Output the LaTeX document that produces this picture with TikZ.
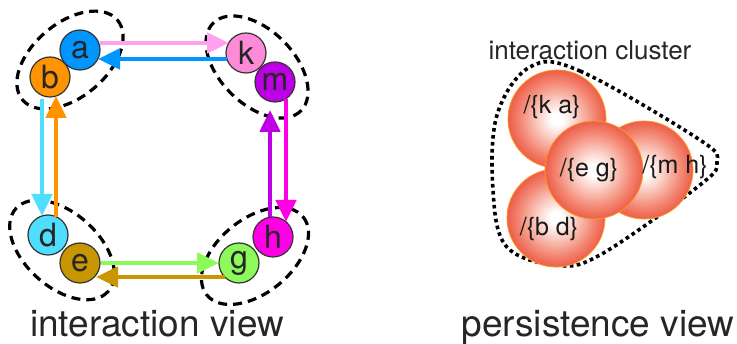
\documentclass[tikz,border=0pt]{standalone}
\usepackage{fontspec}
\setmainfont{TeX Gyre Heros}
\usetikzlibrary{arrows.meta}
\definecolor{cA}{RGB}{0,150,255}
\definecolor{cB}{RGB}{255,147,0}
\definecolor{cK}{RGB}{255,138,216}
\definecolor{cKa}{RGB}{255,160,240}
\definecolor{cM}{RGB}{190,0,230}
\definecolor{cD}{RGB}{80,222,255}
\definecolor{cE}{RGB}{200,150,0}
\definecolor{cG}{RGB}{140,250,90}
\definecolor{cH}{RGB}{255,0,230}
\definecolor{sphA}{RGB}{250,205,195}
\definecolor{sphB}{RGB}{243,135,115}
\definecolor{sphC}{RGB}{234,80,60}
\definecolor{sphD}{RGB}{228,45,32}
\definecolor{sphE}{RGB}{255,150,30}
\pgfdeclareradialshading{sphere}{\pgfpoint{0bp}{0bp}}{color(0bp)=(white); color(3bp)=(white); color(10bp)=(sphA); color(19bp)=(sphB); color(27bp)=(sphC); color(35bp)=(sphD); color(50bp)=(sphD)}
\tikzset{
  vtx/.style={circle, draw=black!80, line width=1.2pt, minimum size=40pt, inner sep=0pt, text=black!85, font=\fontsize{32}{32}\selectfont},
  arr/.style={line width=4.8pt, -{Triangle[length=22pt,width=20pt]}},
  grp/.style={draw=black, line width=3.2pt, dash pattern=on 9pt off 6pt},
  sph/.style={circle, minimum size=98pt, inner sep=0pt, shading=sphere, draw=sphE, line width=0.8pt},
  sphlbl/.style={text=black!90, font=\fontsize{25}{25}\selectfont, inner sep=0pt},
  ttl/.style={text=black!85, font=\fontsize{37}{37}\selectfont, anchor=base, inner sep=0pt}
}
\begin{document}
\begin{tikzpicture}[x=1pt,y=-1pt]
\useasboundingbox (0,0) rectangle (737,344);
% group ellipses
\draw[grp, rotate around={40:(70,60)}] (70,60) ellipse [x radius=62, y radius=37];
\draw[grp, rotate around={-45:(257,67)}] (257,67) ellipse [x radius=62, y radius=37];
\draw[grp, rotate around={-42:(62,250)}] (62,250) ellipse [x radius=62, y radius=37];
\draw[grp, rotate around={39:(255,256)}] (255,256) ellipse [x radius=62, y radius=37];
% vertices
\node[vtx, fill=cA] (a) at (80,50) {a};
\node[vtx, fill=cB] (b) at (50,77) {b};
\node[vtx, fill=cK] (k) at (246,53) {k};
\node[vtx, fill=cM] (m) at (275,82) {m};
\node[vtx, fill=cD] (d) at (48,235) {d};
\node[vtx, fill=cE] (e) at (80,263) {e};
\node[vtx, fill=cG] (g) at (239,263) {g};
\node[vtx, fill=cH] (h) at (273,237) {h};
% arrows
\draw[arr, cKa] ([shift={(20,-7)}]a.center) -- ([shift={(-17,-10)}]k.center);
\draw[arr, cA] ([shift={(-19,6)}]k.center) -- ([shift={(18,9)}]a.center);
\draw[arr, cD] ([shift={(-8,22)}]b.center) -- ([shift={(-6,-19)}]d.center);
\draw[arr, cB] ([shift={(8,-18)}]d.center) -- ([shift={(6,19)}]b.center);
\draw[arr, cG] (e.east) -- ([shift={(-20,0)}]g.center);
\draw[arr, cE] ([shift={(-14,14)}]g.center) -- ([shift={(16,14)}]e.center);
\draw[arr, cM] ([shift={(-3,-20)}]h.center) -- ([shift={(-5,28)}]m.center);
\draw[arr, cH] ([shift={(11,17)}]m.center) -- ([shift={(13,-15)}]h.center);
\node[ttl] (t1) at (157,337) {interaction view};
% persistence view
\node[text=black!85, font=\fontsize{26}{26}\selectfont, anchor=base, inner sep=0pt] (t3) at (590,60) {interaction cluster};
\draw[draw=black, line width=3.6pt, dash pattern=on 3.6pt off 3.4pt]
  plot[smooth cycle, tension=0.6] coordinates {(530,67) (580,71) (700,140) (717,162) (700,185) (600,255) (555,265) (506,246) (493,190) (497,115)};
\node[sph] (ka) at (557,119) {};
\node[sph] (bd) at (556,218) {};
\node[sph] (mh) at (644,170) {};
\node[sph] (eg) at (594,170) {};
\node[sphlbl] (lka) at (552,107) {/\{k a\}};
\node[sphlbl] (lbd) at (549,229) {/\{b d\}};
\node[sphlbl] (leg) at (589,170) {/\{e g\}};
\node[sphlbl] (lmh) at (675,167) {/\{m h\}};
\node[ttl] (t2) at (598,337) {persistence view};
\end{tikzpicture}
\end{document}
